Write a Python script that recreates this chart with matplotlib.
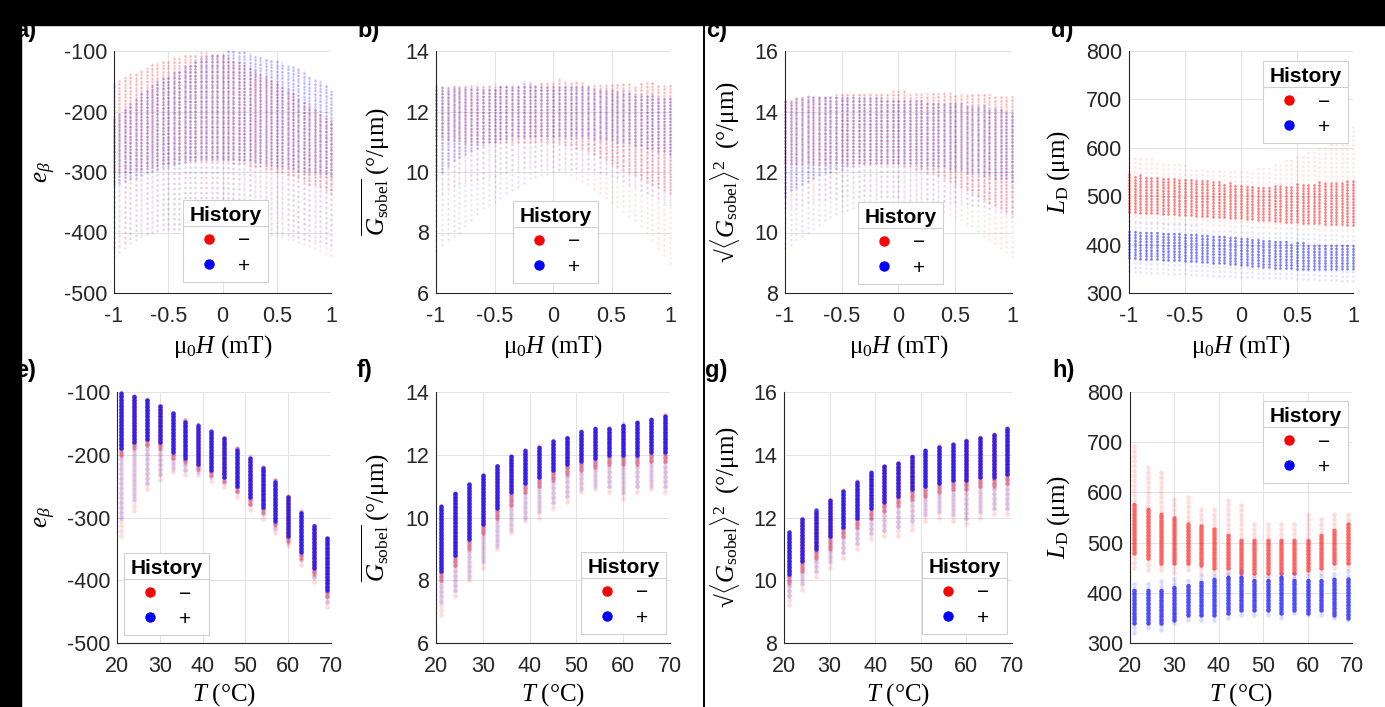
import matplotlib
matplotlib.use("Agg")
import matplotlib.pyplot as plt
from matplotlib.lines import Line2D
from matplotlib.patches import Rectangle
from matplotlib.ticker import FormatStrFormatter

plt.rcParams["font.family"] = ["Liberation Sans", "DejaVu Sans"]
plt.rcParams["mathtext.fontset"] = "custom"
plt.rcParams["mathtext.rm"] = "Liberation Serif"
plt.rcParams["mathtext.it"] = "Liberation Serif:italic"
plt.rcParams["mathtext.bf"] = "Liberation Serif:bold"
plt.rcParams["axes.unicode_minus"] = False

W, H = 1385, 707
RED, BLUE = "#ff0000", "#0000ff"

# field sweep (top row) and temperature sweep (bottom row)
H_FIELD = [-1.0, -0.95, -0.9, -0.85, -0.8, -0.75, -0.7, -0.65, -0.6, -0.55,
           -0.5, -0.45, -0.4, -0.35, -0.3, -0.25, -0.2, -0.15, -0.1, -0.05,
           0.0, 0.05, 0.1, 0.15, 0.2, 0.25, 0.3, 0.35, 0.4, 0.45,
           0.5, 0.55, 0.6, 0.65, 0.7, 0.75, 0.8, 0.85, 0.9, 0.95, 1.0]
TEMP = [21, 24, 27, 30, 33, 36, 39, 42, 45, 48, 51, 54, 57, 60, 63, 66, 69]

# ---- a) e_beta vs field: lo (faint bottom), mid (dense bottom), hi (top)
a_minus_hi = [-153, -148, -143, -138, -134, -130, -126, -122, -119, -116,
              -113, -110, -108, -106, -104, -103, -102, -102, -103, -105,
              -107, -110, -113, -117, -121, -126, -131, -136, -141, -146,
              -152, -158, -164, -170, -176, -182, -189, -195, -202, -209, -216]
a_minus_mid = [-300, -300, -300, -300, -295, -295, -290, -290, -290, -285,
               -285, -285, -280, -280, -280, -280, -280, -280, -280, -280,
               -280, -280, -285, -285, -285, -290, -290, -290, -295, -295,
               -300, -300, -305, -305, -310, -315, -320, -320, -325, -330, -335]
a_minus_lo = [-425, -420, -415, -410, -405, -402, -400, -398, -396, -395,
              -395, -394, -394, -393, -393, -393, -393, -393, -393, -393,
              -394, -394, -395, -396, -397, -398, -400, -400, -402, -404,
              -406, -408, -410, -413, -416, -419, -422, -426, -430, -434, -438]
a_plus_hi = [-209, -200, -192, -184, -176, -169, -162, -156, -150, -145,
             -140, -135, -130, -125, -120, -116, -112, -108, -105, -103,
             -101, -100, -100, -101, -102, -104, -106, -108, -110, -113,
             -116, -119, -122, -126, -130, -134, -139, -144, -150, -157, -165]
a_plus_mid = [-320, -318, -315, -312, -310, -305, -300, -298, -295, -292,
              -290, -288, -285, -283, -280, -280, -278, -278, -278, -278,
              -278, -278, -278, -280, -280, -280, -282, -284, -286, -288,
              -290, -290, -292, -294, -296, -298, -300, -300, -302, -304, -306]
a_plus_lo = [-440, -432, -425, -418, -412, -406, -402, -400, -398, -396,
             -395, -394, -394, -393, -393, -393, -393, -393, -393, -393,
             -393, -393, -394, -394, -395, -396, -397, -398, -399, -400,
             -401, -402, -404, -406, -408, -410, -412, -414, -416, -418, -420]

# ---- b) mean Sobel gradient vs field
b_minus_hi = [12.7, 12.8, 12.8, 12.9, 12.9, 12.9, 12.9, 12.9, 12.9, 12.9,
              12.9, 12.9, 12.9, 12.9, 12.9, 12.9, 12.9, 12.9, 13.0, 13.0,
              13.0, 13.1, 13.0, 13.0, 13.0, 13.0, 12.9, 12.9, 12.9, 12.9,
              12.9, 12.9, 12.9, 12.9, 12.9, 13.0, 13.0, 13.0, 12.9, 12.9, 12.9]
b_minus_mid = [11.2, 11.2, 11.1, 11.1, 11.1, 11.0, 11.0, 11.0, 11.0, 11.0,
               11.0, 11.0, 11.0, 11.0, 11.0, 11.0, 11.0, 11.0, 11.0, 11.0,
               11.0, 11.0, 10.9, 10.9, 10.8, 10.8, 10.7, 10.6, 10.5, 10.4,
               10.3, 10.2, 10.1, 10.0, 9.9, 9.8, 9.7, 9.6, 9.5, 9.4, 9.3]
b_minus_lo = [9.2, 9.3, 9.4, 9.5, 9.6, 9.65, 9.7, 9.75, 9.8, 9.85,
              9.9, 9.95, 10.0, 10.05, 10.1, 10.15, 10.2, 10.2, 10.2, 10.2,
              10.2, 10.1, 10.0, 9.9, 9.8, 9.7, 9.6, 9.45, 9.3, 9.15,
              9.0, 8.85, 8.7, 8.55, 8.4, 8.2, 8.0, 7.75, 7.5, 7.25, 7.0]
b_plus_hi = [12.9, 12.8, 12.8, 12.8, 12.8, 12.8, 12.8, 12.8, 12.8, 12.8,
             12.8, 12.9, 12.9, 12.9, 12.9, 13.0, 13.0, 12.9, 12.9, 12.9,
             12.8, 12.8, 12.8, 12.8, 12.8, 12.8, 12.8, 12.8, 12.7, 12.7,
             12.7, 12.7, 12.7, 12.7, 12.6, 12.6, 12.6, 12.6, 12.5, 12.5, 12.5]
b_plus_mid = [9.8, 10.0, 10.2, 10.4, 10.5, 10.6, 10.7, 10.8, 10.9, 11.0,
              11.0, 11.1, 11.1, 11.2, 11.2, 11.2, 11.2, 11.2, 11.2, 11.2,
              11.2, 11.2, 11.2, 11.2, 11.2, 11.2, 11.2, 11.1, 11.1, 11.1,
              11.1, 11.0, 11.0, 11.0, 10.9, 10.9, 10.8, 10.8, 10.7, 10.7, 10.6]
b_plus_lo = [7.4, 7.6, 7.8, 7.9, 8.0, 8.2, 8.4, 8.6, 8.8, 8.9,
             9.0, 9.15, 9.3, 9.4, 9.5, 9.65, 9.8, 9.85, 9.9, 9.95,
             10.0, 10.05, 10.1, 10.1, 10.1, 10.1, 10.1, 10.05, 10.0, 9.95,
             9.9, 9.8, 9.7, 9.6, 9.5, 9.4, 9.3, 9.2, 9.1, 9.0, 8.9]

# ---- c) RMS Sobel gradient vs field
c_minus_hi = [14.4, 14.4, 14.5, 14.5, 14.5, 14.5, 14.5, 14.5, 14.5, 14.6,
              14.6, 14.6, 14.6, 14.6, 14.6, 14.6, 14.6, 14.6, 14.6, 14.7,
              14.7, 14.7, 14.6, 14.6, 14.6, 14.6, 14.6, 14.6, 14.6, 14.6,
              14.6, 14.6, 14.6, 14.6, 14.6, 14.6, 14.6, 14.5, 14.5, 14.5, 14.5]
c_minus_mid = [12.3, 12.3, 12.3, 12.3, 12.3, 12.3, 12.3, 12.3, 12.3, 12.3,
               12.3, 12.3, 12.3, 12.3, 12.3, 12.3, 12.3, 12.3, 12.3, 12.3,
               12.3, 12.2, 12.2, 12.1, 12.1, 12.0, 12.0, 11.9, 11.8, 11.7,
               11.6, 11.5, 11.4, 11.3, 11.2, 11.1, 11.0, 10.9, 10.8, 10.7, 10.6]
c_minus_lo = [10.8, 10.85, 10.9, 10.95, 11.0, 11.05, 11.1, 11.1, 11.15, 11.15,
              11.2, 11.2, 11.2, 11.2, 11.2, 11.2, 11.2, 11.2, 11.2, 11.2,
              11.2, 11.15, 11.1, 11.05, 11.0, 10.95, 10.9, 10.8, 10.7, 10.6,
              10.5, 10.4, 10.3, 10.2, 10.05, 9.9, 9.8, 9.65, 9.5, 9.35, 9.2]
c_plus_hi = [14.4, 14.4, 14.4, 14.4, 14.5, 14.5, 14.5, 14.5, 14.5, 14.5,
             14.5, 14.5, 14.5, 14.5, 14.5, 14.5, 14.5, 14.5, 14.4, 14.4,
             14.4, 14.4, 14.4, 14.4, 14.4, 14.3, 14.3, 14.3, 14.3, 14.3,
             14.3, 14.3, 14.2, 14.2, 14.2, 14.2, 14.1, 14.1, 14.1, 14.0, 14.0]
c_plus_mid = [11.2, 11.4, 11.5, 11.6, 11.7, 11.8, 11.9, 12.0, 12.0, 12.1,
              12.1, 12.2, 12.2, 12.3, 12.3, 12.3, 12.3, 12.3, 12.3, 12.3,
              12.3, 12.3, 12.3, 12.3, 12.2, 12.2, 12.2, 12.2, 12.2, 12.1,
              12.1, 12.1, 12.0, 12.0, 12.0, 11.9, 11.9, 11.8, 11.8, 11.8, 11.7]
c_plus_lo = [9.5, 9.6, 9.8, 9.9, 10.0, 10.1, 10.25, 10.4, 10.5, 10.6,
             10.7, 10.75, 10.8, 10.85, 10.9, 10.9, 10.95, 11.0, 11.0, 11.0,
             11.0, 11.05, 11.05, 11.1, 11.1, 11.1, 11.1, 11.05, 11.05, 11.0,
             11.0, 11.0, 10.95, 10.9, 10.9, 10.85, 10.8, 10.75, 10.7, 10.6, 10.5]

# ---- d) domain period vs field: lo, core lo, core hi, hi
d_minus_hi = [585, 582, 580, 578, 576, 574, 572, 570, 568, 566,
              564, 562, 560, 558, 556, 555, 554, 553, 552, 552,
              552, 553, 555, 558, 561, 564, 568, 572, 576, 580,
              585, 590, 594, 598, 602, 606, 610, 615, 620, 630, 645]
d_minus_chi = [545, 544, 543, 542, 541, 540, 539, 538, 537, 536,
               535, 534, 533, 532, 531, 530, 529, 528, 527, 526,
               525, 524, 523, 522, 522, 522, 522, 522, 523, 524,
               525, 526, 527, 528, 529, 530, 530, 531, 532, 533, 534]
d_minus_clo = [468, 467, 466, 466, 465, 465, 464, 464, 463, 462,
               462, 461, 460, 460, 459, 458, 457, 456, 455, 454,
               454, 453, 452, 451, 450, 450, 449, 448, 447, 446,
               446, 445, 445, 444, 444, 443, 443, 442, 442, 441, 441]
d_minus_lo = [448, 448, 447, 447, 446, 446, 445, 445, 444, 444,
              443, 443, 442, 442, 441, 441, 440, 440, 439, 439,
              438, 438, 437, 437, 436, 436, 435, 435, 434, 434,
              433, 433, 432, 432, 431, 431, 430, 430, 430, 430, 430]
d_plus_hi = [448, 447, 446, 446, 445, 445, 444, 444, 443, 442,
             442, 441, 440, 439, 438, 437, 436, 435, 434, 433,
             432, 431, 430, 429, 428, 427, 426, 425, 424, 424,
             423, 423, 422, 422, 421, 421, 420, 420, 420, 420, 420]
d_plus_chi = [432, 431, 430, 430, 429, 428, 428, 427, 426, 426,
              425, 424, 423, 422, 421, 420, 419, 418, 417, 416,
              415, 414, 413, 412, 411, 410, 409, 408, 407, 406,
              405, 405, 404, 404, 404, 403, 403, 403, 403, 403, 403]
d_plus_clo = [372, 372, 371, 371, 370, 370, 369, 369, 368, 368,
              367, 367, 366, 365, 364, 363, 362, 361, 360, 359,
              358, 357, 356, 355, 354, 353, 352, 352, 351, 351,
              350, 350, 350, 350, 350, 350, 350, 350, 350, 350, 350]
d_plus_lo = [345, 344, 343, 342, 342, 341, 341, 340, 340, 339,
             339, 338, 338, 337, 337, 336, 336, 335, 335, 334,
             334, 333, 333, 332, 332, 331, 331, 330, 330, 330,
             329, 329, 328, 328, 327, 327, 326, 326, 325, 325, 325]

# ---- e) e_beta vs temperature
e_minus_hi = [-100, -107, -113, -120, -133, -145, -153, -162, -172, -190, -202, -220, -240, -265, -290, -310, -330]
e_minus_mid = [-200, -190, -185, -190, -205, -212, -222, -232, -242, -258, -278, -292, -312, -338, -365, -390, -425]
e_minus_lo = [-330, -290, -255, -240, -228, -232, -232, -242, -252, -268, -288, -302, -325, -345, -375, -402, -442]
e_plus_hi = [-100, -107, -113, -120, -133, -145, -153, -162, -172, -190, -202, -220, -240, -265, -290, -310, -330]
e_plus_mid = [-190, -180, -175, -180, -195, -205, -215, -225, -235, -250, -268, -283, -305, -330, -355, -380, -415]
e_plus_lo = [-300, -270, -245, -230, -222, -225, -228, -236, -245, -260, -278, -295, -318, -340, -368, -395, -435]

# ---- f) mean Sobel gradient vs temperature
f_minus_hi = [10.4, 10.8, 11.1, 11.4, 11.7, 11.95, 12.15, 12.3, 12.45, 12.6, 12.75, 12.85, 12.9, 13.0, 13.05, 13.15, 13.3]
f_minus_mid = [8.0, 8.5, 9.0, 9.5, 10.0, 10.4, 10.8, 11.0, 11.2, 11.4, 11.5, 11.6, 11.7, 11.7, 11.7, 11.8, 11.8]
f_minus_lo = [6.9, 7.5, 8.0, 8.4, 9.0, 9.5, 9.9, 10.0, 10.3, 10.5, 10.8, 10.9, 10.8, 10.6, 10.8, 10.9, 10.8]
f_plus_hi = [10.4, 10.8, 11.1, 11.4, 11.7, 11.95, 12.15, 12.3, 12.45, 12.6, 12.75, 12.85, 12.9, 13.0, 13.05, 13.15, 13.3]
f_plus_mid = [8.3, 8.8, 9.3, 9.8, 10.3, 10.8, 11.1, 11.3, 11.5, 11.7, 11.8, 11.9, 12.0, 12.0, 12.0, 12.1, 12.1]
f_plus_lo = [7.3, 7.7, 8.1, 8.6, 9.1, 9.6, 10.0, 10.2, 10.5, 10.7, 10.9, 11.0, 11.0, 10.8, 11.0, 11.0, 11.0]

# ---- g) RMS Sobel gradient vs temperature
g_minus_hi = [11.55, 11.95, 12.25, 12.6, 12.9, 13.2, 13.45, 13.65, 13.8, 13.95, 14.15, 14.3, 14.35, 14.5, 14.6, 14.7, 14.9]
g_minus_mid = [9.9, 10.3, 10.7, 11.0, 11.4, 11.7, 12.0, 12.2, 12.4, 12.6, 12.7, 12.8, 12.9, 12.9, 13.0, 13.0, 13.1]
g_minus_lo = [9.2, 9.7, 10.1, 10.4, 10.7, 11.0, 11.3, 11.4, 11.4, 11.6, 11.9, 12.0, 11.9, 11.8, 12.0, 12.1, 12.1]
g_plus_hi = [11.55, 11.95, 12.25, 12.6, 12.9, 13.2, 13.45, 13.65, 13.8, 13.95, 14.15, 14.3, 14.35, 14.5, 14.6, 14.7, 14.9]
g_plus_mid = [10.2, 10.6, 11.0, 11.4, 11.7, 12.0, 12.3, 12.5, 12.7, 12.9, 13.0, 13.1, 13.2, 13.2, 13.3, 13.3, 13.4]
g_plus_lo = [9.5, 9.9, 10.3, 10.6, 10.9, 11.2, 11.5, 11.6, 11.7, 11.9, 12.1, 12.2, 12.1, 12.0, 12.2, 12.3, 12.3]

# ---- h) domain period vs temperature: lo, core lo, core hi, hi
h_minus_hi = [700, 650, 640, 590, 590, 570, 575, 585, 575, 545, 540, 540, 540, 565, 555, 560, 565]
h_minus_chi = [580, 570, 560, 550, 540, 535, 530, 520, 510, 510, 510, 510, 510, 510, 515, 530, 540]
h_minus_clo = [480, 470, 460, 460, 460, 455, 450, 450, 440, 440, 440, 440, 440, 445, 450, 460, 460]
h_minus_lo = [450, 445, 445, 440, 445, 440, 440, 430, 430, 430, 430, 430, 430, 440, 440, 450, 450]
h_plus_hi = [420, 425, 430, 430, 430, 440, 440, 445, 445, 440, 440, 445, 440, 440, 440, 440, 445]
h_plus_chi = [410, 410, 410, 415, 420, 425, 430, 435, 435, 430, 430, 435, 430, 430, 430, 430, 430]
h_plus_clo = [340, 340, 340, 345, 355, 355, 355, 360, 365, 365, 365, 360, 365, 360, 365, 355, 350]
h_plus_lo = [320, 330, 325, 340, 345, 345, 345, 350, 355, 355, 355, 350, 360, 355, 355, 350, 345]

FIELD_LABEL = r"$\mathrm{μ}_0H\ \mathrm{(mT)}$"
TEMP_LABEL = r"$T\ \mathrm{(°C)}$"
YLAB_E = r"$e_{\beta}$"
YLAB_MEAN = r"$\overline{G_{\mathrm{sobel}}}\ \mathrm{(°/μm)}$"
YLAB_RMS = r"$√\langle G_{\mathrm{sobel}}\rangle^2\ \ \mathrm{(°/μm)}$"
YLAB_L = r"$L_{\mathrm{D}}\ \mathrm{(μm)}$"


def px_axes(fig, l, t, r, b):
    return fig.add_axes([l / W, 1 - b / H, (r - l) / W, (b - t) / H])


def cloud(ax, x, lo, hi, color, alpha, lw, gap):
    lc = ax.vlines(x, lo, hi, colors=color, alpha=alpha, linewidths=lw,
                   linestyles=[(0, (0.1, gap))], zorder=2)
    lc.set_capstyle("round")
    lc.set_clip_on(False)


def style_axes(ax, xlim, xticks, ylim, yticks, xlabel, ylabel, ylab_right_px, box):
    l, t, r, b = box
    ax.set_xlim(*xlim)
    ax.set_ylim(*ylim)
    ax.set_xticks(xticks)
    ax.set_yticks(yticks)
    ax.xaxis.set_major_formatter(FormatStrFormatter("%g"))
    ax.yaxis.set_major_formatter(FormatStrFormatter("%g"))
    ax.grid(True, color="#e3e3e3", lw=0.7, zorder=0)
    ax.set_axisbelow(True)
    for s in ("top", "right"):
        ax.spines[s].set_visible(False)
    for s in ("left", "bottom"):
        ax.spines[s].set_color("#262626")
        ax.spines[s].set_linewidth(0.8)
    ax.tick_params(length=0, labelsize=15.5, colors="#262626", pad=5)
    ax.tick_params(axis="x", pad=9)
    ax.set_xlabel(xlabel, fontsize=18)
    ax.xaxis.set_label_coords(0.5, -(40 if b < 400 else 38) / (b - t))
    ax.set_ylabel(ylabel, fontsize=18)
    ax.yaxis.set_label_coords((ylab_right_px - l) / (r - l), 0.5)


fig = plt.figure(figsize=(W / 100, H / 100), dpi=100)

field_ticks = [-1, -0.5, 0, 0.5, 1]
temp_ticks = [20, 30, 40, 50, 60, 70]

# per panel drawing style: (faint alpha red, dense alpha red, faint blue, dense blue, lw, gap)
TOP_STYLE = (0.10, 0.22, 0.10, 0.22, 1.8, 1.2)
D_STYLE = (0.10, 0.48, 0.10, 0.48, 1.9, 1.0)
BOT_STYLE = (0.14, 0.35, 0.14, 0.75, 3.3, 0.6)
H_STYLE = (0.14, 0.55, 0.14, 0.65, 3.3, 0.6)

panels = [
    # label, box, x, series, ylim, yticks, xlabel, ylabel, ylabel right px, legend px, style
    ("a)", (114, 51, 331, 293), H_FIELD,
     [(a_minus_lo, a_minus_mid, a_minus_hi, a_minus_hi), (a_plus_lo, a_plus_mid, a_plus_hi, a_plus_hi)],
     (-500, -100), [-500, -400, -300, -200, -100], FIELD_LABEL, YLAB_E, 58, (183, 200), TOP_STYLE),
    ("b)", (436, 51, 670, 293), H_FIELD,
     [(b_minus_lo, b_minus_mid, b_minus_hi, b_minus_hi), (b_plus_lo, b_plus_mid, b_plus_hi, b_plus_hi)],
     (6, 14), [6, 8, 10, 12, 14], FIELD_LABEL, YLAB_MEAN, 392, (513, 201), TOP_STYLE),
    ("c)", (785, 51, 1012, 293), H_FIELD,
     [(c_minus_lo, c_minus_mid, c_minus_hi, c_minus_hi), (c_plus_lo, c_plus_mid, c_plus_hi, c_plus_hi)],
     (8, 16), [8, 10, 12, 14, 16], FIELD_LABEL, YLAB_RMS, 742, (858, 202), TOP_STYLE),
    ("d)", (1129, 51, 1353, 293), H_FIELD,
     [(d_minus_lo, d_minus_clo, d_minus_chi, d_minus_hi), (d_plus_lo, d_plus_clo, d_plus_chi, d_plus_hi)],
     (300, 800), [300, 400, 500, 600, 700, 800], FIELD_LABEL, YLAB_L, 1072, (1263, 61), D_STYLE),
    ("e)", (117, 392, 331, 643), TEMP,
     [(e_minus_lo, e_minus_mid, e_minus_hi, e_minus_hi), (e_plus_lo, e_plus_mid, e_plus_hi, e_plus_hi)],
     (-500, -100), [-500, -400, -300, -200, -100], TEMP_LABEL, YLAB_E, 58, (124, 553), BOT_STYLE),
    ("f)", (436, 392, 670, 643), TEMP,
     [(f_minus_lo, f_minus_mid, f_minus_hi, f_minus_hi), (f_plus_lo, f_plus_mid, f_plus_hi, f_plus_hi)],
     (6, 14), [6, 8, 10, 12, 14], TEMP_LABEL, YLAB_MEAN, 392, (581, 552), BOT_STYLE),
    ("g)", (784, 392, 1012, 643), TEMP,
     [(g_minus_lo, g_minus_mid, g_minus_hi, g_minus_hi), (g_plus_lo, g_plus_mid, g_plus_hi, g_plus_hi)],
     (8, 16), [8, 10, 12, 14, 16], TEMP_LABEL, YLAB_RMS, 742, (922, 552), BOT_STYLE),
    ("h)", (1130, 392, 1352, 643), TEMP,
     [(h_minus_lo, h_minus_clo, h_minus_chi, h_minus_hi), (h_plus_lo, h_plus_clo, h_plus_chi, h_plus_hi)],
     (300, 800), [300, 400, 500, 600, 700, 800], TEMP_LABEL, YLAB_L, 1072, (1263, 401), H_STYLE),
]

legends = []
for label, box, x, series, ylim, yticks, xlabel, ylabel, ylab_px, leg_px, st in panels:
    ax = px_axes(fig, *box)
    (lo, clo, chi, hi) = series[0]
    cloud(ax, x, lo, hi, RED, st[0], st[4], st[5] * 1.6)
    cloud(ax, x, clo, chi, RED, st[1], st[4], st[5])
    (lo, clo, chi, hi) = series[1]
    cloud(ax, x, lo, hi, BLUE, st[2], st[4], st[5] * 1.6)
    cloud(ax, x, clo, chi, BLUE, st[3], st[4], st[5])
    top_row = box[1] < 200
    style_axes(ax, (-1, 1) if top_row else (20, 70), field_ticks if top_row else temp_ticks,
               ylim, yticks, xlabel, ylabel, ylab_px, box)

    handles = [Line2D([], [], ls="", marker="o", ms=6.5, color=RED),
               Line2D([], [], ls="", marker="o", ms=6.5, color=BLUE)]
    leg = ax.legend(handles, ["\u2212", "+"], title="History", loc="upper left",
                    bbox_to_anchor=(leg_px[0] / W, 1 - leg_px[1] / H), bbox_transform=fig.transFigure,
                    borderaxespad=0, fontsize=15, title_fontproperties={"weight": "bold", "size": 15},
                    frameon=True, fancybox=False, framealpha=1, edgecolor="#d0d0d0",
                    handlelength=0.8, handletextpad=1.0, labelspacing=0.3, borderpad=0.3)
    leg.get_frame().set_linewidth(0.8)
    leg.set_zorder(5)
    legends.append(leg)

    lx = 15 if label in ("a)", "e)") else box[0] - 79 + (1 if box[0] > 1000 else 0)
    ly = 31 if top_row else 371
    fig.text(lx / W, 1 - ly / H, label, fontsize=17, fontweight="bold", va="center", ha="left", zorder=3)

# separator line under each legend title
fig.canvas.draw()
for leg in legends:
    bb = leg.get_window_extent()
    tb = leg.get_title().get_window_extent()
    y = tb.y0 - 1
    fig.add_artist(Line2D([bb.x0 / W, bb.x1 / W], [y / H, y / H], transform=fig.transFigure,
                          color="#d0d0d0", lw=0.8, zorder=6))

# black frame remnants around the figure
fig.add_artist(Rectangle((0, 1 - 25 / H), 1, 25 / H, transform=fig.transFigure,
                         color="black", zorder=20))
fig.add_artist(Rectangle((0, 0), 21 / W, 1, transform=fig.transFigure, color="black", zorder=20))
fig.add_artist(Line2D([704 / W, 704 / W], [0, 1], transform=fig.transFigure, color="black",
                      lw=1.4, zorder=20))

fig.savefig("out.png", dpi=100)
